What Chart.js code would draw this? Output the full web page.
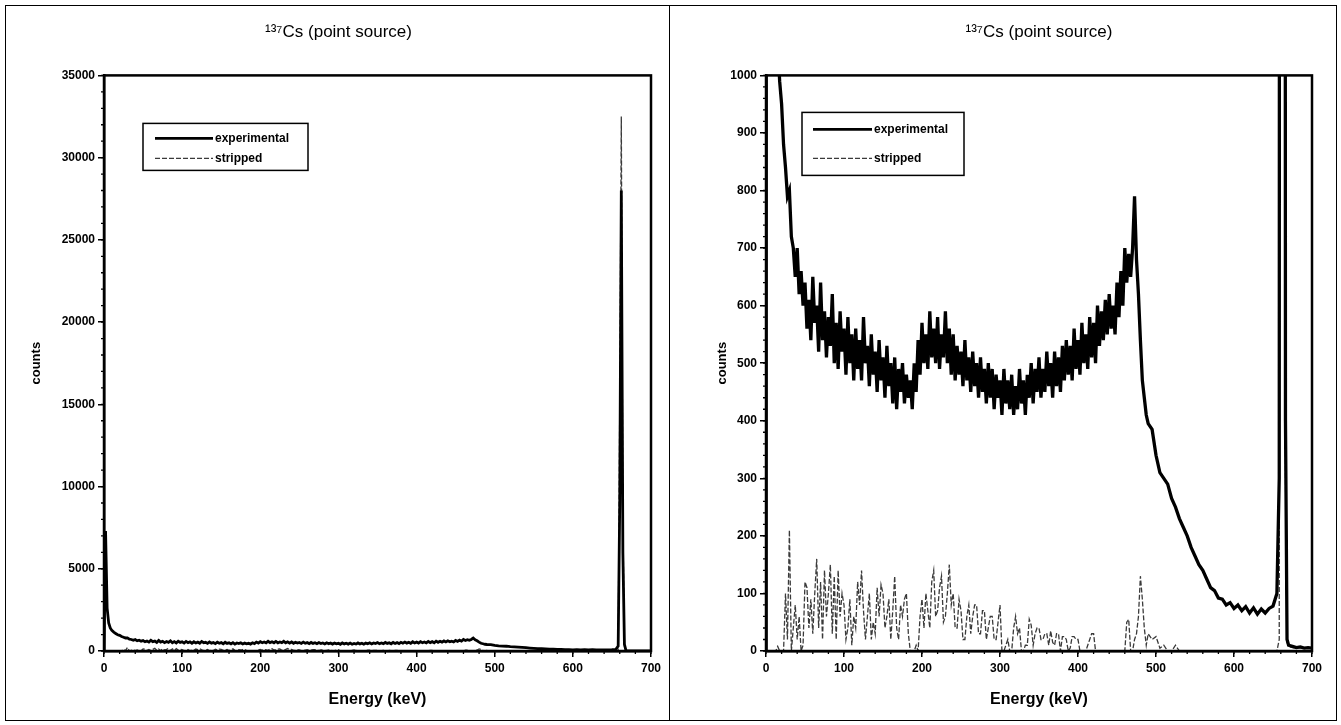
<!DOCTYPE html>
<html><head><meta charset="utf-8">
<script src="https://cdn.jsdelivr.net/npm/chart.js@4.4.0/dist/chart.umd.min.js"></script>
<style>
html,body{margin:0;padding:0;background:#fff;}
.panel{position:absolute;top:5px;height:716px;border:1px solid #000;box-sizing:border-box;background:#fff;}
#pl{left:5px;width:665px;}
#pr{left:669px;width:668px;}
canvas{position:absolute;left:0;top:0;}
</style></head><body>
<div class="panel" id="pl"><canvas id="c1" width="663" height="714" style="width:663px;height:714px"></canvas></div>
<div class="panel" id="pr"><canvas id="c2" width="666" height="714" style="width:666px;height:714px"></canvas></div>
<script>
// ---- data (energy in keV, counts) ----
const energies = [
  0,2,4,6,8,10,12.5,
  15,17.5,20,22.5,25,27.5,30,32.5,35,37.5,
  40,42.5,45,47.5,50,52.5,55,57.5,60,62.5,
  65,67.5,70,72.5,75,77.5,80,82.5,85,87.5,
  90,92.5,95,97.5,100,102.5,105,107.5,110,112.5,
  115,117.5,120,122.5,125,127.5,130,132.5,135,137.5,
  140,142.5,145,147.5,150,152.5,155,157.5,160,162.5,
  165,167.5,170,172.5,175,177.5,180,182.5,185,187.5,
  190,192.5,195,197.5,200,202.5,205,207.5,210,212.5,
  215,217.5,220,222.5,225,227.5,230,232.5,235,237.5,
  240,242.5,245,247.5,250,252.5,255,257.5,260,262.5,
  265,267.5,270,272.5,275,277.5,280,282.5,285,287.5,
  290,292.5,295,297.5,300,302.5,305,307.5,310,312.5,
  315,317.5,320,322.5,325,327.5,330,332.5,335,337.5,
  340,342.5,345,347.5,350,352.5,355,357.5,360,362.5,
  365,367.5,370,372.5,375,377.5,380,382.5,385,387.5,
  390,392.5,395,397.5,400,402.5,405,407.5,410,412.5,
  415,417.5,420,422.5,425,427.5,430,432.5,435,437.5,
  440,442.5,445,447.5,450,452.5,455,457.5,460,462.5,
  465,467.5,470,472.5,475,477.5,
  480,482.5,485,487.5,490,
  495,500,505,510,515,520,525,530,535,540,
  545,550,555,560,565,570,575,580,585,590,
  595,600,605,610,615,620,625,630,635,640,
  645,650,655,
  658,660,662,664,666,668,670,
  675,680,685,690,695,700
];
const experimental = [
  0,7300,2600,1700,1400,1250,1150,
  1060,990,950,880,840,790,800,720,700,650,
  700,620,660,600,640,560,610,540,650,570,
  600,520,640,540,590,510,580,530,620,500,
  570,490,590,520,560,480,580,500,550,470,
  560,490,540,470,580,500,530,460,550,480,
  520,450,540,470,510,440,530,460,500,430,
  510,420,490,450,500,430,480,440,470,420,
  500,450,540,480,570,500,550,490,590,510,
  560,500,580,490,550,510,590,500,560,480,
  550,470,530,480,520,460,540,470,510,450,
  520,460,500,440,510,450,490,430,500,440,
  490,420,480,440,470,410,490,430,470,420,
  480,410,460,420,490,430,470,410,480,440,
  500,430,490,450,510,440,490,450,520,460,
  500,440,520,460,510,450,530,470,540,480,
  530,470,560,490,540,480,570,500,550,490,
  580,510,570,500,600,530,590,540,610,550,
  620,560,600,550,640,580,660,600,700,640,
  690,650,700,790,680,620,
  540,470,440,410,395,
  385,340,310,300,290,265,250,230,215,200,
  180,165,150,140,125,110,105,92,90,80,
  84,74,80,70,77,66,75,64,73,66,
  74,78,100,
  300,9000,28000,6000,400,20,10,
  8,6,7,5,6,5
];
const stripped = [
  0,0,0,0,0,0,0,
  8,0,0,0,100,20,210,0,40,80,
  20,60,0,10,120,110,40,90,30,100,
  160,40,120,20,140,60,100,150,30,130,
  20,140,60,100,80,20,40,90,10,60,
  40,120,80,140,70,20,60,100,20,50,
  30,110,60,115,100,40,60,90,20,70,
  130,40,20,80,60,90,100,30,0,0,
  0,10,0,60,90,40,100,70,40,120,
  140,60,70,110,130,50,60,100,150,80,
  100,40,40,90,70,20,20,60,80,30,
  60,80,80,30,30,70,70,20,40,60,
  60,20,20,50,80,0,0,10,20,0,
  0,40,60,30,40,0,0,10,10,55,
  45,10,30,40,40,20,20,30,30,10,
  35,15,10,30,30,0,25,25,20,0,
  5,25,25,20,20,0,0,0,0,10,
  20,30,30,0,0,0,0,0,0,0,
  0,0,0,0,0,0,0,0,0,50,
  55,0,0,20,30,60,
  130,90,40,10,30,
  20,25,5,10,0,0,10,0,0,0,
  0,0,0,0,0,0,0,0,0,0,
  0,0,0,0,0,0,0,0,0,0,
  0,0,0,
  20,15000,32500,8000,300,15,8,
  6,5,6,5,6,5
];
const xTicks = [0,100,200,300,400,500,600,700];
const yTicksLeft = [0,5000,10000,15000,20000,25000,30000,35000];
const yTicksRight = [0,100,200,300,400,500,600,700,800,900,1000];
const titleText = '\u00B9\u00B3\u2077Cs (point source)';
const seriesNames = ['experimental','stripped'];

const FONT = '"Liberation Sans", Arial, Helvetica, sans-serif';

const framePlugin = {
  id: 'frame',
  afterDatasetsDraw(chart, args, o) {
    const {ctx, chartArea: a, scales: {x, y}} = chart;
    ctx.save();
    ctx.strokeStyle = '#000';
    ctx.lineWidth = o.lineWidth;
    ctx.strokeRect(a.left, a.top, a.right - a.left, a.bottom - a.top);
    ctx.lineWidth = 1.3;
    ctx.beginPath();
    for (let v = x.min; v <= x.max + 1e-6; v += o.xMinor) {
      const px = x.getPixelForValue(v);
      ctx.moveTo(px, a.bottom); ctx.lineTo(px, a.bottom + o.minorLen);
    }
    for (let v = y.min; v <= y.max + 1e-6; v += o.yMinor) {
      const py = y.getPixelForValue(v);
      ctx.moveTo(a.left, py); ctx.lineTo(a.left - o.minorLen, py);
    }
    ctx.stroke();
    ctx.restore();
  }
};

const boxLegend = {
  id: 'boxLegend',
  afterDatasetsDraw(chart, args, o) {
    const {ctx, chartArea: a} = chart;
    const bx = a.left + o.dx, by = a.top + o.dy;
    ctx.save();
    ctx.fillStyle = '#fff';
    ctx.fillRect(bx, by, o.w, o.h);
    ctx.strokeStyle = '#000'; ctx.lineWidth = 1.5;
    ctx.strokeRect(bx, by, o.w, o.h);
    chart.data.datasets.forEach((ds, i) => {
      const yy = by + o.row0 + i * o.rowGap;
      ctx.beginPath();
      ctx.setLineDash(ds.borderDash || []);
      ctx.strokeStyle = ds.borderColor;
      ctx.lineWidth = Math.min(ds.borderWidth, 2.6);
      ctx.moveTo(bx + o.lineX0, yy); ctx.lineTo(bx + o.lineX1, yy);
      ctx.stroke();
      ctx.setLineDash([]);
      ctx.fillStyle = '#000';
      ctx.font = o.font;
      ctx.textBaseline = 'middle';
      ctx.textAlign = 'left';
      ctx.fillText(ds.label, bx + o.textX, yy);
    });
    ctx.restore();
  }
};

function makeChart(id, cfg) {
  const pts = arr => energies.map((e, i) => ({x: e, y: arr[i]}));
  return new Chart(document.getElementById(id), {
    type: 'line',
    data: {
      datasets: [
        {label: seriesNames[0], data: pts(experimental), borderColor: '#000', borderWidth: cfg.expWidth,
         pointRadius: 0, tension: 0, fill: false},
        {label: seriesNames[1], data: pts(stripped), borderColor: '#3a3a3a', borderWidth: 1.3,
         borderDash: [5, 2], pointRadius: 0, tension: 0, fill: false}
      ]
    },
    plugins: [framePlugin, boxLegend],
    options: {
      responsive: false, animation: false, events: [],
      layout: {padding: {left: cfg.padL, right: cfg.padR, top: 0, bottom: 0}},
      plugins: {
        legend: {display: false},
        tooltip: {enabled: false},
        title: {display: true, text: titleText, fullSize: cfg.titleFull, color: '#000',
                font: {family: FONT, size: 17, weight: 'normal'}, padding: {top: 16, bottom: 33}},
        frame: {lineWidth: 2.5, xMinor: 20, yMinor: cfg.yMinor, minorLen: 3},
        boxLegend: cfg.legend
      },
      scales: {
        x: {
          type: 'linear', min: 0, max: 700,
          afterFit: s => { s.height = 69; },
          afterBuildTicks: s => { s.ticks = xTicks.map(v => ({value: v})); },
          ticks: {color: '#000', font: {family: FONT, size: 12, weight: 'bold'}, padding: 4,
                  maxRotation: 0, autoSkip: false, callback: v => String(v)},
          grid: {drawOnChartArea: false, drawTicks: true, tickLength: 6, color: '#000', lineWidth: 1.5},
          border: {display: true, color: '#000', width: 2.5},
          title: {display: true, text: 'Energy (keV)', color: '#000',
                  font: {family: FONT, size: 16, weight: 'bold'}, padding: {top: 0, bottom: 11}}
        },
        y: {
          type: 'linear', min: 0, max: cfg.yMax,
          afterFit: s => { s.width = cfg.yW; },
          afterBuildTicks: s => { s.ticks = cfg.yTicks.map(v => ({value: v})); },
          ticks: {color: '#000', font: {family: FONT, size: 12, weight: 'bold'}, padding: 3,
                  autoSkip: false, callback: v => String(v)},
          grid: {drawOnChartArea: false, drawTicks: true, tickLength: 6, color: '#000', lineWidth: 1.5},
          border: {display: true, color: '#000', width: 2.5},
          title: {display: true, text: 'counts', color: '#000',
                  font: {family: FONT, size: 13, weight: 'bold'}, padding: {top: cfg.yTitlePad, bottom: 0}}
        }
      }
    }
  });
}

makeChart('c1', {
  padL: 20, padR: 18, yW: 78, yTitlePad: 3, yMax: 35000, yTicks: yTicksLeft, yMinor: 1000,
  expWidth: 2.8, titleFull: true,
  legend: {dx: 39, dy: 48, w: 165, h: 47, row0: 15, rowGap: 20, lineX0: 12, lineX1: 70, textX: 72,
           font: 'bold 12px ' + FONT}
});
makeChart('c2', {
  padL: 40, padR: 24, yW: 56, yTitlePad: 5, yMax: 1000, yTicks: yTicksRight, yMinor: 20,
  expWidth: 3.3, titleFull: false,
  legend: {dx: 36, dy: 37, w: 162, h: 63, row0: 17, rowGap: 29, lineX0: 11, lineX1: 70, textX: 72,
           font: 'bold 12px ' + FONT}
});
</script>
</body></html>
